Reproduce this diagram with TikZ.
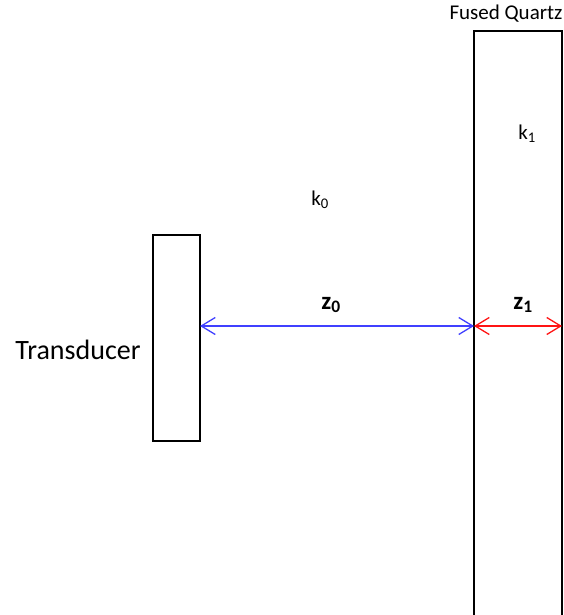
\documentclass[tikz,border=0pt]{standalone}
\usepackage{fontspec}
\setmainfont{Carlito}
\usetikzlibrary{arrows.meta}
\definecolor{zblue}{RGB}{64,64,255}
\definecolor{zred}{RGB}{255,20,20}

\begin{document}
\begin{tikzpicture}[x=1pt,y=-1pt,>={Straight Barb[length=14pt,width=17pt]},
        box/.style={draw,line width=1.1pt,inner sep=0pt,outer sep=0pt},
        label/.style={font=\fontsize{21}{24}\selectfont,inner sep=0pt},
        dist/.style={font=\fontsize{25}{28}\selectfont\bfseries,inner sep=0pt}]
        \useasboundingbox (0,0) rectangle (563,615);
        \clip (0,0) rectangle (563,615);
        \node[box,minimum width=47pt,minimum height=206pt] (transducer) at (176.5,338) {};
        \node[box,minimum width=88pt,minimum height=620pt,anchor=north west] (quartz) at (474,31) {};
        \node[label,font=\fontsize{28}{30}\selectfont] (tlabel) at (78,350) {Transducer};
        \node[label] (qlabel) at (506,14) {Fused Quartz};
        \node[label] (k0) at (320,200) {k\textsubscript{0}};
        \node[label] (k1) at (527,134) {k\textsubscript{1}};
        \node[dist] (z0) at (331,305) {z\textsubscript{0}};
        \node[dist] (z1) at (523,305) {z\textsubscript{1}};
        \coordinate (gap) at (0,326);
        \draw[<->,zblue,line width=1.3pt] (transducer.east |- gap) -- (quartz.west |- gap);
        \draw[<->,zred,line width=1.3pt] (quartz.west |- gap) -- (quartz.east |- gap);
\end{tikzpicture}
\end{document}
